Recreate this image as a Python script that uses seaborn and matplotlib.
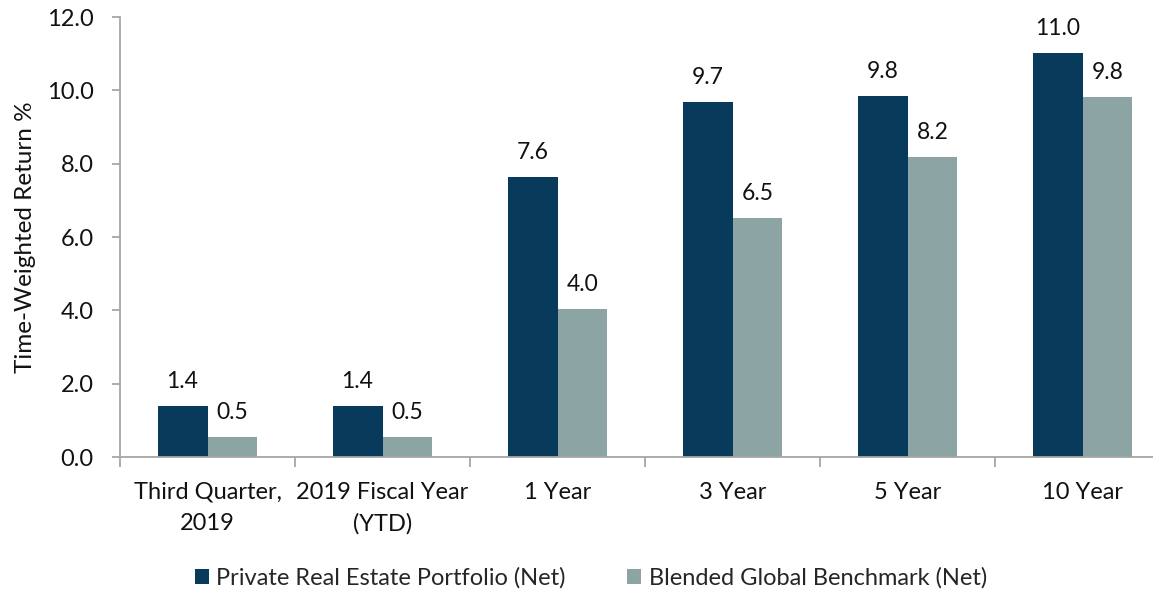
import matplotlib
matplotlib.use("Agg")
import matplotlib.pyplot as plt
import seaborn as sns
import pandas as pd
from matplotlib.patches import Patch

categories = ["Third Quarter,\n2019", "2019 Fiscal Year\n(YTD)", "1 Year", "3 Year", "5 Year", "10 Year"]
series_names = ["Private Real Estate Portfolio (Net)", "Blended Global Benchmark (Net)"]
portfolio = [1.4, 1.4, 7.64, 9.68, 9.84, 11.03]
benchmark = [0.54, 0.54, 4.04, 6.53, 8.18, 9.82]
colors = ["#073A5B", "#8DA4A4"]
yticks = [0.0, 2.0, 4.0, 6.0, 8.0, 10.0, 12.0]

df = pd.DataFrame({
    "Category": categories * 2,
    "Series": [series_names[0]] * len(categories) + [series_names[1]] * len(categories),
    "Value": portfolio + benchmark,
})

sns.set_theme(style="white")
plt.rcParams["font.family"] = ["Lato", "DejaVu Sans"]
FS = 17

fig = plt.figure(figsize=(11.53, 5.93), dpi=100)
ax = fig.add_axes([120 / 1153, 1 - 457 / 593, 1050 / 1153, (457 - 17) / 593])

sns.barplot(data=df, x="Category", y="Value", hue="Series", order=categories,
            hue_order=series_names, palette=colors, width=0.571, gap=0,
            saturation=1, edgecolor="none", ax=ax, legend=False)

for cont in ax.containers:
    ax.bar_label(cont, fmt="%.1f", padding=10, fontsize=16.5, color="#111111")

ax.set_xlim(-0.5, 5.5)
ax.set_ylim(0, 12)
ax.set_yticks(yticks)
ax.set_yticklabels([f"{v:.1f}" for v in yticks])
ax.set_xlabel("")
ax.set_ylabel("Time-Weighted Return %", fontsize=17.5, color="#111111")
ax.yaxis.set_label_coords(-(120 - 36) / 1050, 0.5)

for s in ["top", "right"]:
    ax.spines[s].set_visible(False)
for s in ["left", "bottom"]:
    ax.spines[s].set_color("#A6A6A6")
    ax.spines[s].set_linewidth(1.3)

ax.tick_params(axis="y", which="major", left=True, length=6, width=1.3, color="#A6A6A6",
               labelsize=FS, labelcolor="#111111", pad=13)
ax.tick_params(axis="x", which="major", bottom=False, labelsize=FS, labelcolor="#111111", pad=12)
ax.set_xticks([i - 0.5 for i in range(len(categories) + 1)], minor=True)
ax.tick_params(axis="x", which="minor", bottom=True, length=7, width=1.3, color="#A6A6A6")
for lbl in ax.get_xticklabels():
    lbl.set_linespacing(1.6)

handles = [Patch(facecolor=c, edgecolor="none") for c in colors]
fig.legend(handles, series_names, loc="center", bbox_to_anchor=(591 / 1153, 1 - 578 / 593),
           ncol=2, frameon=False, fontsize=FS, handlelength=0.6, handleheight=0.6,
           handletextpad=0.3, columnspacing=2.6)

fig.savefig("out.png", dpi=100)
